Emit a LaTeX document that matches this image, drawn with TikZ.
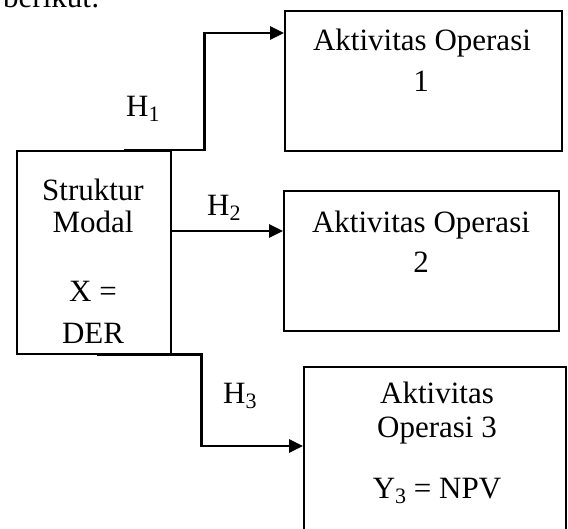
\documentclass[tikz,border=0pt]{standalone}
\usepackage{fontspec}
\setmainfont{Liberation Serif}
\usetikzlibrary{arrows.meta}
\tikzset{
  box/.style={draw, line width=1.6pt, rectangle, inner sep=0pt, anchor=north west},
  conn/.style={line width=2.6pt, -{Triangle[length=14pt,width=13pt]}},
  txt/.style={inner sep=0pt, anchor=base, font=\fontsize{31}{35}\selectfont},
}
\newcommand{\subdigit}[1]{\raisebox{-5pt}{\fontsize{22}{22}\selectfont #1}}
\begin{document}
\begin{tikzpicture}[x=1pt,y=-1pt]
\useasboundingbox (0,0) rectangle (568,529);
\clip (0,0) rectangle (568,529);
% boxes
\node[box, minimum width=277pt, minimum height=140pt] (b1) at (284,10) {};
\node[box, minimum width=275pt, minimum height=140pt] (b2) at (283,190) {};
\node[box, minimum width=262pt, minimum height=200pt] (b3) at (303,366) {};
\node[box, minimum width=154pt, minimum height=203pt] (s) at (16,150) {};
% texts
\node[txt, anchor=base west] (intro) at (3,8) {berikut:};
\node[txt] (t1a) at (422,51) {Aktivitas Operasi};
\node[txt] (t1b) at (421,92) {1};
\node[txt] (t2a) at (421,233) {Aktivitas Operasi};
\node[txt] (t2b) at (421,273) {2};
\node[txt] (t3a) at (437,403) {Aktivitas};
\node[txt] (t3b) at (437,438) {Operasi 3};
\node[txt] (t3c) at (437,498) {Y\subdigit{3} = NPV};
\node[txt] (sa) at (93,201) {Struktur};
\node[txt] (sb) at (93,233) {Modal};
\node[txt] (sc) at (93,302) {X =};
\node[txt] (sd) at (93,344) {DER};
\node[txt, anchor=base west] (h1) at (126,117) {H\subdigit{1}};
\node[txt, anchor=base west] (h2) at (207,216) {H\subdigit{2}};
\node[txt, anchor=base west] (h3) at (223,404) {H\subdigit{3}};
% connectors
\coordinate (a1) at ([yshift=-23pt]b1.north west);
\coordinate (a2) at ([yshift=-41pt]b2.north west);
\coordinate (a3) at ([yshift=-80pt]b3.north west);
\draw[conn] ([xshift=-48pt]s.north east) -- ([xshift=33pt]s.north east) |- (a1);
\draw[conn] (s.east |- a2) -- (a2);
\draw[conn] ([xshift=-75pt]s.south east) -- ([xshift=30pt]s.south east) |- (a3);
\end{tikzpicture}
\end{document}
